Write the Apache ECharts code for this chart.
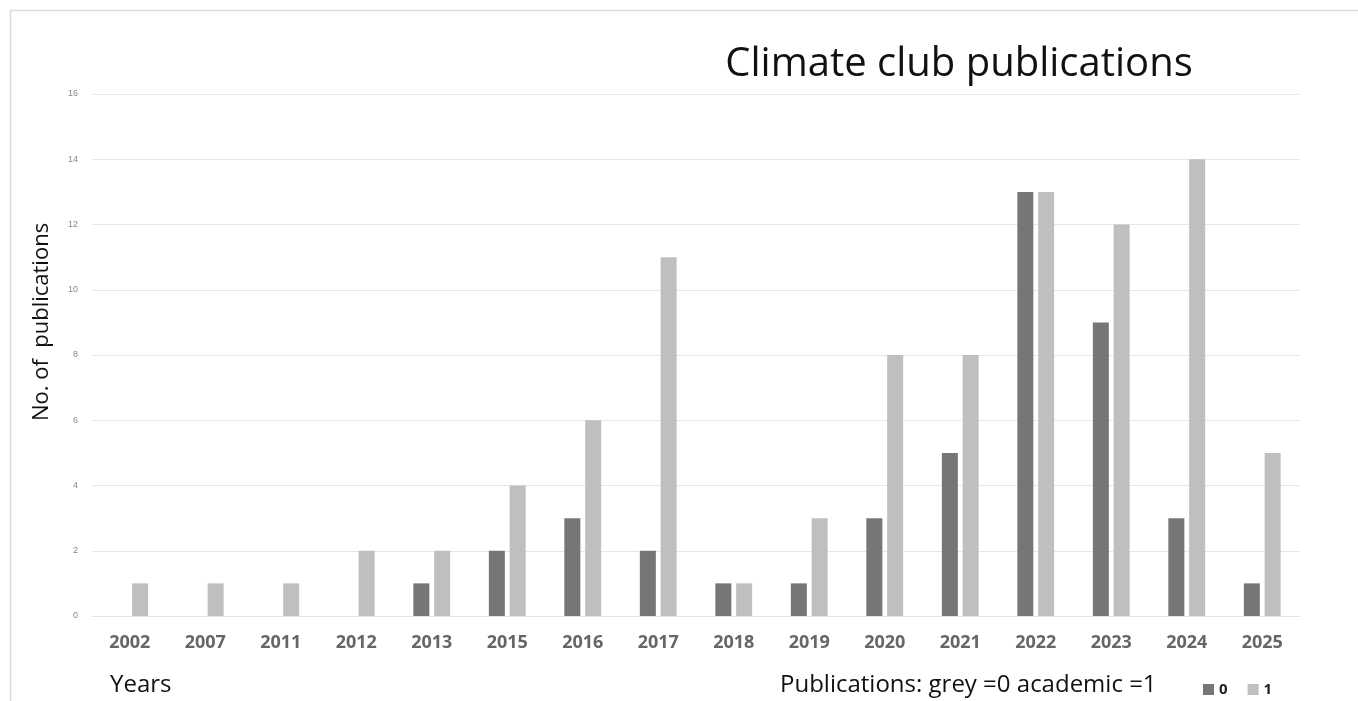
<!DOCTYPE html>
<html>
<head>
<meta charset="utf-8">
<script src="https://cdn.jsdelivr.net/npm/echarts@6/dist/echarts.min.js"></script>
<style>
  html, body { margin: 0; padding: 0; background: #fff; }
  #main { width: 1358px; height: 701px; }
</style>
</head>
<body>
<div id="main"></div>
<script>
var years = ['2002', '2007', '2011', '2012', '2013', '2015', '2016', '2017',
  '2018', '2019', '2020', '2021', '2022', '2023', '2024', '2025'];
var grey0 = [0, 0, 0, 0, 1, 2, 3, 2, 1, 1, 3, 5, 13, 9, 3, 1];
var academic1 = [1, 1, 1, 2, 2, 4, 6, 11, 1, 3, 8, 8, 13, 12, 14, 5];
var yTicks = [0, 2, 4, 6, 8, 10, 12, 14, 16];

var chart = echarts.init(document.getElementById('main'));

var option = {
  animation: false,
  color: ['#767676', '#bfbfbf'],
  title: {
    text: 'Climate club publications',
    left: 954,
    top: 40,
    textAlign: 'center',
    textStyle: {
      fontFamily: 'Open Sans',
      fontSize: 40,
      fontWeight: 'normal',
      color: '#111'
    }
  },
  graphic: [{
    type: 'rect',
    shape: { x: 10.5, y: 10.5, width: 1360, height: 700 },
    style: { fill: 'none', stroke: '#dcdcdc', lineWidth: 1.5 }
  }, {
    type: 'text',
    x: 42,
    y: 322,
    rotation: Math.PI / 2,
    style: {
      text: 'No. of  publications',
      font: '22px "Open Sans"',
      fill: '#111',
      align: 'center',
      verticalAlign: 'middle'
    }
  }, {
    type: 'text',
    left: 110,
    top: 673,
    style: { text: 'Years', font: '24px "Open Sans"', fill: '#111' }
  }, {
    type: 'text',
    left: 780,
    top: 673,
    style: { text: 'Publications: grey =0 academic =1', font: '24px "Open Sans"', fill: '#111' }
  }],
  legend: {
    left: 1198,
    top: 677,
    itemWidth: 11,
    itemHeight: 11,
    itemGap: 20,
    icon: 'rect',
    textStyle: { fontFamily: 'Open Sans', fontSize: 15, fontWeight: 'bold', color: '#222' },
    data: ['0', '1']
  },
  grid: {
    left: 92,
    right: 58,
    top: 94,
    bottom: 85
  },
  xAxis: {
    type: 'category',
    data: years,
    axisLine: { show: true, lineStyle: { color: '#e3e3e3' } },
    axisTick: { show: false },
    axisLabel: {
      margin: 18,
      fontFamily: 'Open Sans',
      fontSize: 18,
      fontWeight: 'bold',
      color: '#666'
    }
  },
  yAxis: {
    type: 'value',
    min: yTicks[0],
    max: yTicks[yTicks.length - 1],
    interval: 2,
    axisLine: { show: false },
    axisTick: { show: false },
    axisLabel: { margin: 14, fontSize: 9, color: '#888' },
    splitLine: { lineStyle: { color: '#e6e6e6' } }
  },
  series: [{
    name: '0',
    type: 'bar',
    data: grey0,
    barWidth: 16,
    barGap: '30%'
  }, {
    name: '1',
    type: 'bar',
    data: academic1,
    barWidth: 16
  }]
};

chart.setOption(option);
</script>
</body>
</html>
